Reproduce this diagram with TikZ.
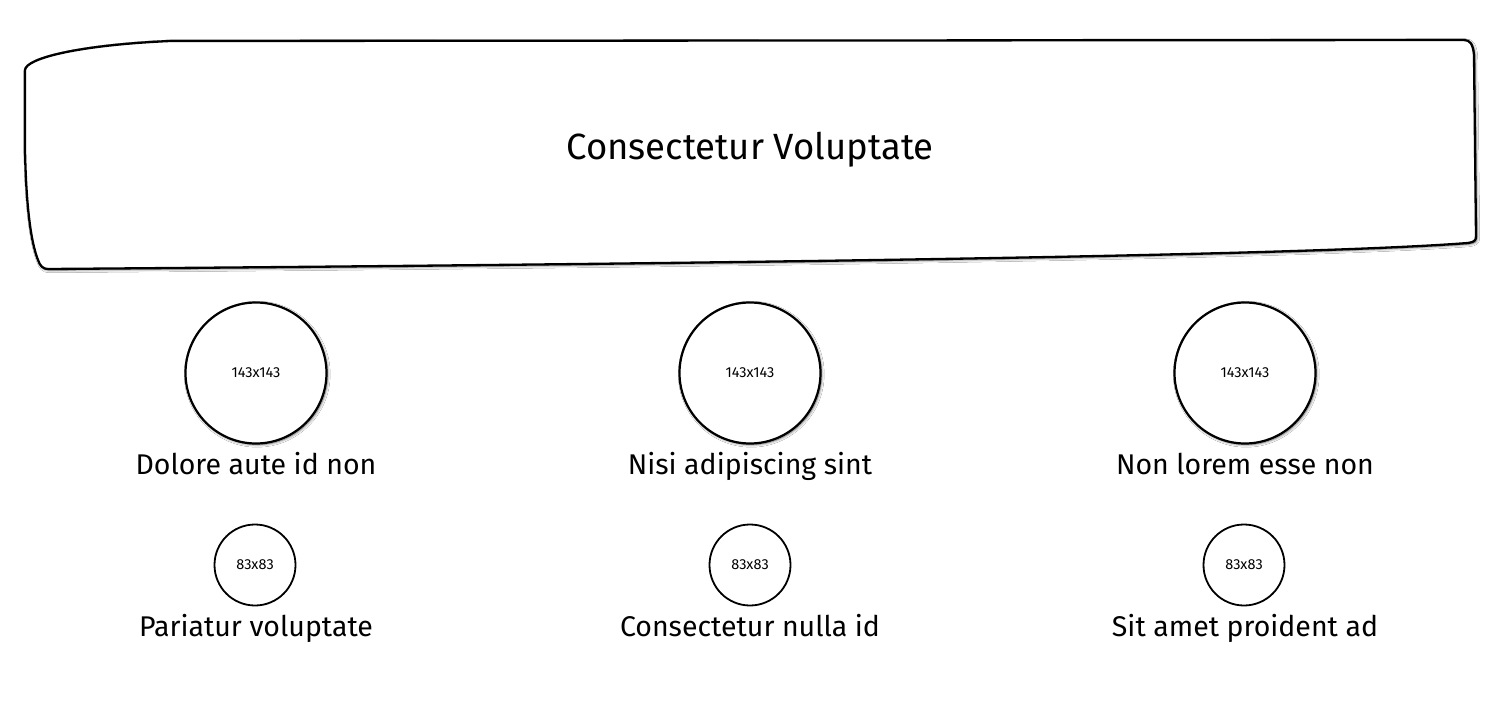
\documentclass[tikz,border=0pt]{standalone}
\usepackage{fontspec}
\setmainfont{Fira Sans}
\usetikzlibrary{shadows.blur}
\tikzset{
  shade/.style={blur shadow={shadow xshift=1.2pt, shadow yshift=-1.2pt, shadow opacity=60, shadow blur radius=2.5pt, shadow blur steps=6}},
  bigcirc/.style={circle, draw=black, line width=2.2pt, fill=white, minimum size=141pt, inner sep=0pt, shade, font=\fontsize{14.5}{16}\selectfont},
  smallcirc/.style={circle, draw=black, line width=1.8pt, fill=white, minimum size=81pt, inner sep=0pt, font=\fontsize{14.5}{16}\selectfont},
  lbl/.style={font=\fontsize{28.5}{31}\selectfont, inner sep=0pt, anchor=base},
  titletext/.style={font=\fontsize{36.5}{40}\selectfont, inner sep=0pt}
}
\begin{document}
\begin{tikzpicture}[x=1pt,y=-1pt]
\useasboundingbox (0,0) rectangle (1500,720);
\fill[white] (0,0) rectangle (1500,720);
% banner
\path[draw=black, line width=2.3pt, fill=white, line join=round, shade]
  (25,70) .. controls (26,58) and (80,45) .. (170,41)
  -- (1464,40) .. controls (1470,40) and (1473,44) .. (1474,55)
  -- (1476,236) .. controls (1476,241) and (1474,242) .. (1468,243)
  .. controls (1300,256) and (700,264) .. (48,269)
  .. controls (43,269) and (40,266) .. (38,260)
  .. controls (30,240) and (26,200) .. (25,150) -- cycle;
\node[titletext] (title) at (750,150) {Consectetur Voluptate};
% big circles
\node[bigcirc] (c1) at (256,373) {143x143};
\node[bigcirc] (c2) at (750,373) {143x143};
\node[bigcirc] (c3) at (1245,373) {143x143};
\node[lbl] (l1) at (256,474) {Dolore aute id non};
\node[lbl] (l2) at (750,474) {Nisi adipiscing sint};
\node[lbl] (l3) at (1245,474) {Non lorem esse non};
% small circles
\node[smallcirc] (s1) at (255,565) {83x83};
\node[smallcirc] (s2) at (750,565) {83x83};
\node[smallcirc] (s3) at (1244,565) {83x83};
\node[lbl] (m1) at (256,636) {Pariatur voluptate};
\node[lbl] (m2) at (750,636) {Consectetur nulla id};
\node[lbl] (m3) at (1245,636) {Sit amet proident ad};
\end{tikzpicture}
\end{document}
